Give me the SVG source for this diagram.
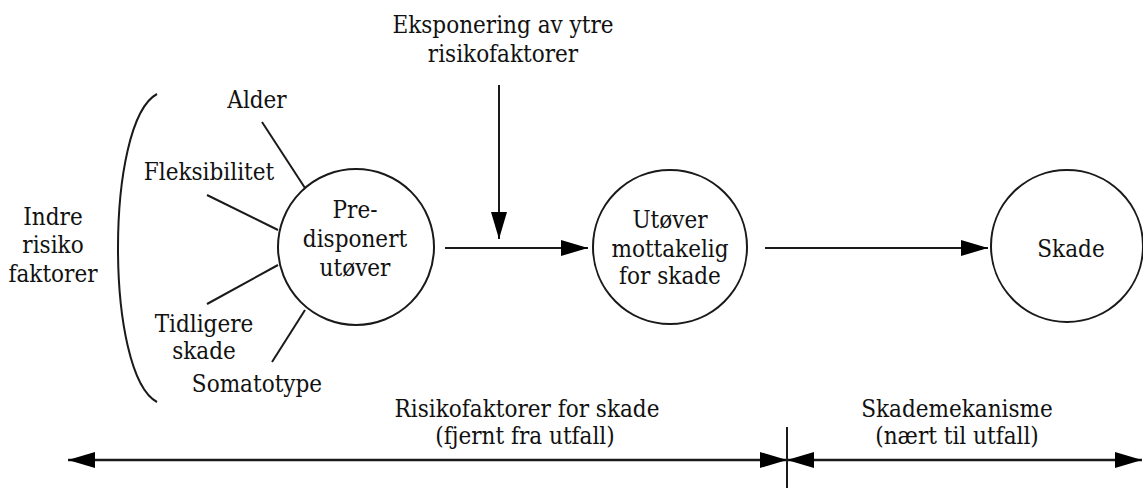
<svg xmlns="http://www.w3.org/2000/svg" width="1143" height="488" viewBox="0 0 1143 488">
<style>
  .t { font-family: 'DejaVu Serif Condensed', 'DejaVu Serif', serif; font-stretch: condensed; font-size: 24px; fill: #111111; text-anchor: middle; }
  .node { fill: #ffffff; stroke: #1a1a1a; stroke-width: 2; }
  .ln { fill: none; stroke: #1a1a1a; stroke-width: 2; }
  .arr { fill: none; stroke: #1a1a1a; stroke-width: 2; marker-end: url(#ah); }
  .dbl { fill: none; stroke: #1a1a1a; stroke-width: 2.5; marker-end: url(#ah); marker-start: url(#ah); }
</style>
<defs>
  <marker id="ah" markerUnits="userSpaceOnUse" markerWidth="28" markerHeight="18" refX="27" refY="8" orient="auto-start-reverse">
    <path d="M0,0 L27,8 L0,16 z" fill="#000000"/>
  </marker>
</defs>
<rect width="1143" height="488" fill="#ffffff"/>
<g class="t">

<g id="label-ytre">
  <text x="503" y="33">Eksponering av ytre</text>
  <text x="503" y="62">risikofaktorer</text>
</g>

<g id="label-indre">
  <text x="53" y="225">Indre</text>
  <text x="53" y="253">risiko</text>
  <text x="53" y="282">faktorer</text>
  <path class="ln" d="M157,94 C105,122 105,374 157,402"/>
</g>

<g id="factor-alder"><text x="257" y="108">Alder</text></g>
<g id="factor-fleksibilitet"><text x="209" y="180">Fleksibilitet</text></g>
<g id="factor-tidligere"><text x="204" y="332">Tidligere</text><text x="204" y="359">skade</text></g>
<g id="factor-somatotype"><text x="257" y="392">Somatotype</text></g>

<g id="connectors">
  <line class="ln" x1="262" y1="122" x2="305" y2="188"/>
  <line class="ln" x1="207" y1="195" x2="278" y2="230"/>
  <line class="ln" x1="207" y1="304" x2="278" y2="265"/>
  <line class="ln" x1="272" y1="362" x2="305" y2="310"/>
  <line class="arr" x1="445" y1="248" x2="588" y2="248"/>
  <line class="arr" x1="499" y1="85" x2="499" y2="239"/>
  <line class="arr" x1="765" y1="248" x2="988" y2="248"/>
  <line class="dbl" x1="68" y1="460" x2="787" y2="460"/>
  <line class="dbl" x1="787" y1="460" x2="1142" y2="460"/>
  <line class="ln" x1="787" y1="427" x2="787" y2="488" stroke-width="1.5"/>
</g>

<g id="node-predisponert">
  <circle class="node" cx="356" cy="247" r="78"/>
  <text x="355" y="218">Pre-</text>
  <text x="355" y="247">disponert</text>
  <text x="355" y="276">utøver</text>
</g>

<g id="node-mottakelig">
  <circle class="node" cx="670" cy="247" r="77"/>
  <text x="670" y="228">Utøver</text>
  <text x="670" y="257">mottakelig</text>
  <text x="670" y="284">for skade</text>
</g>

<g id="node-skade">
  <circle class="node" cx="1067" cy="246" r="76"/>
  <text x="1071" y="257">Skade</text>
</g>

<g id="label-risikofaktorer">
  <text x="527" y="417">Risikofaktorer for skade</text>
  <text x="525" y="444">(fjernt fra utfall)</text>
</g>

<g id="label-skademekanisme">
  <text x="957" y="417">Skademekanisme</text>
  <text x="957" y="444">(nært til utfall)</text>
</g>
</g>
</svg>
